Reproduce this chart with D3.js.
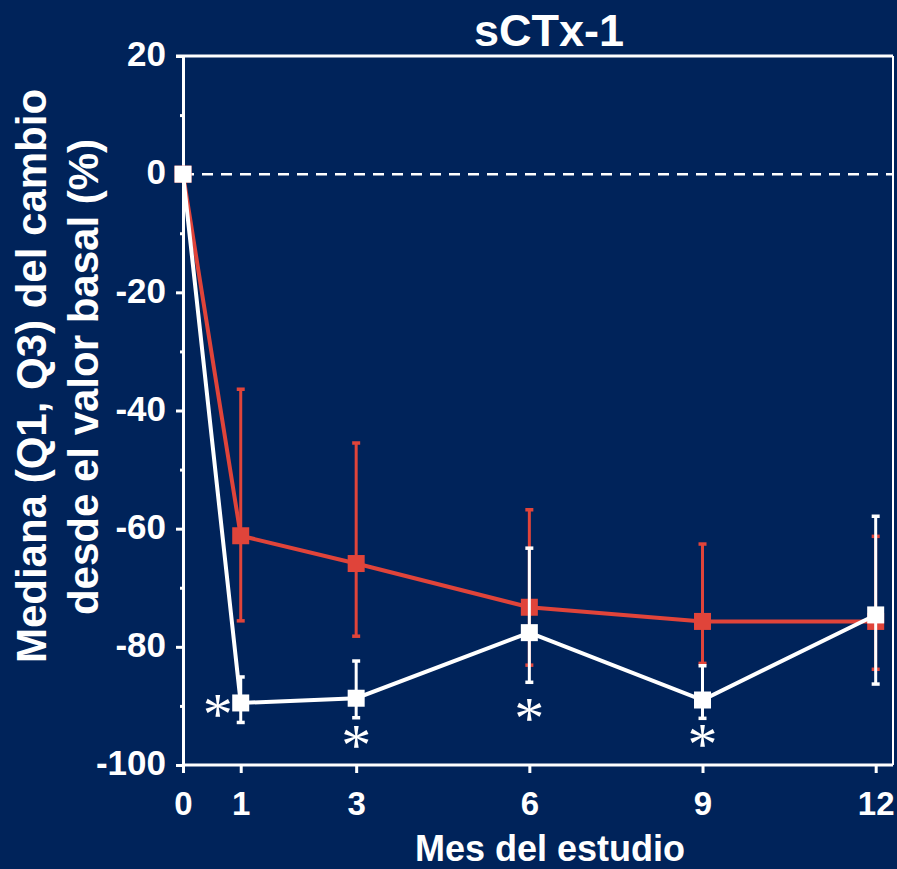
<!DOCTYPE html>
<html>
<head>
<meta charset="utf-8">
<script src="https://cdn.jsdelivr.net/npm/d3@7"></script>
<style>
  html, body { margin: 0; padding: 0; background: #00235a; }
  svg { display: block; }
  text { font-family: "Liberation Sans", Arial, sans-serif; font-weight: bold; fill: #fff; }
</style>
</head>
<body>
<svg id="chart" width="897" height="869"></svg>
<script>
// data
const months = [0, 1, 3, 6, 9, 12]
const whiteMedian = [0, -89.5, -88.7, -77.6, -89.0, -74.6]
const whiteQ3 = [null, -85.1, -82.4, -63.3, -83.2, -57.9]
const whiteQ1 = [null, -92.8, -92.0, -86.0, -92.1, -86.3]
const redMedian = [0, -61.2, -65.9, -73.3, -75.7, -75.7]
const redQ3 = [null, -36.4, -45.5, -56.8, -62.6, -61.3]
const redQ1 = [null, -75.6, -78.2, -83.1, -82.8, -83.8]
const yTicks = [20, 0, -20, -40, -60, -80, -100]
const yMinor = [10, -10, -30, -50, -70, -90]
// significance marks (month, value where the * sits)
const starMonths = [1, 3, 6, 9]
const starValues = [-89.8, -95.1, -90.6, -94.9]

const svg = d3.select('#chart')
const white = '#ffffff'
const red = '#e0443a'
const pLeft = 183, pRight = 893, pTop = 56, pBottom = 765

const x = d3.scaleLinear().domain([0, 12.3]).range([pLeft, pRight])
const y = d3.scaleLinear().domain([-100, 20]).range([pBottom, pTop])

// frame
svg.append('line').attr('x1', pLeft - 7).attr('x2', pRight).attr('y1', pTop).attr('y2', pTop)
  .attr('stroke', white).attr('stroke-width', 3)
svg.append('line').attr('x1', pRight).attr('x2', pRight).attr('y1', pTop).attr('y2', pBottom)
  .attr('stroke', white).attr('stroke-width', 2)

// zero line
svg.append('line').attr('x1', pLeft).attr('x2', pRight).attr('y1', y(0)).attr('y2', y(0))
  .attr('stroke', white).attr('stroke-width', 2.5).attr('stroke-dasharray', '11,8')

// axes
const yAxis = svg.append('g').attr('transform', `translate(${pLeft},0)`)
  .call(d3.axisLeft(y).tickValues(yTicks).tickSize(7).tickPadding(10).tickFormat(d => String(d)))
svg.append('g').attr('transform', `translate(${pLeft},0)`)
  .call(d3.axisLeft(y).tickValues(yMinor).tickSize(3).tickFormat(''))
  .select('.domain').remove()

const xAxis = svg.append('g').attr('transform', `translate(0,${pBottom})`)
  .call(d3.axisBottom(x).tickValues(months).tickSize(8).tickPadding(19).tickSizeOuter(0))
xAxis.select('.domain').attr('d', `M${pLeft},0H${pRight}`)

svg.selectAll('.domain, .tick line').attr('stroke', white).attr('stroke-width', 3)
svg.selectAll('.tick text').attr('fill', white).style('font-size', '35px')
  .style('font-family', '"Liberation Sans", Arial, sans-serif').style('font-weight', 'bold')
yAxis.selectAll('.tick text').attr('dy', '0.28em')
xAxis.selectAll('.tick text').style('font-size', '33px')

// series
const drawSeries = (median, q1, q3, color) => {
  const pts = months.map((m, i) => ({ m, v: median[i], lo: q1[i], hi: q3[i] }))
  const g = svg.append('g')
  g.append('path').datum(pts)
    .attr('d', d3.line().x(d => x(d.m)).y(d => y(d.v)))
    .attr('fill', 'none').attr('stroke', color).attr('stroke-width', 4)
  const eb = g.selectAll('g.eb').data(pts.filter(d => d.lo !== null)).enter().append('g')
  eb.append('line').attr('x1', d => x(d.m)).attr('x2', d => x(d.m))
    .attr('y1', d => y(d.hi)).attr('y2', d => y(d.lo))
    .attr('stroke', color).attr('stroke-width', 3)
  eb.append('line').attr('x1', d => x(d.m) - 4).attr('x2', d => x(d.m) + 4)
    .attr('y1', d => y(d.hi)).attr('y2', d => y(d.hi))
    .attr('stroke', color).attr('stroke-width', 3.5)
  eb.append('line').attr('x1', d => x(d.m) - 4).attr('x2', d => x(d.m) + 4)
    .attr('y1', d => y(d.lo)).attr('y2', d => y(d.lo))
    .attr('stroke', color).attr('stroke-width', 3.5)
  g.selectAll('rect').data(pts).enter().append('rect')
    .attr('x', d => x(d.m) - 8.5).attr('y', d => y(d.v) - 8.5)
    .attr('width', 17).attr('height', 17).attr('fill', color)
}
drawSeries(redMedian, redQ1, redQ3, red)
drawSeries(whiteMedian, whiteQ1, whiteQ3, white)

// asterisks
svg.selectAll('text.star').data(starMonths).enter().append('text')
  .attr('class', 'star')
  .attr('x', (d, i) => x(d) - (i === 0 ? 23 : 0))
  .attr('y', (d, i) => y(starValues[i]) + 29)
  .attr('text-anchor', 'middle')
  .style('font-family', '"Liberation Serif", "Times New Roman", serif')
  .style('font-weight', 'normal')
  .style('font-size', '60px')
  .text('*')

// titles
svg.append('text').attr('x', 549).attr('y', 46).attr('text-anchor', 'middle')
  .style('font-size', '45px').text('sCTx-1')
svg.append('text').attr('x', 550).attr('y', 861).attr('text-anchor', 'middle')
  .style('font-size', '36px').text('Mes del estudio')
svg.append('text').attr('transform', 'translate(46,376) rotate(-90)').attr('text-anchor', 'middle')
  .style('font-size', '42px').text('Mediana (Q1, Q3) del cambio')
svg.append('text').attr('transform', 'translate(98,377) rotate(-90)').attr('text-anchor', 'middle')
  .style('font-size', '42px').text('desde el valor basal (%)')
</script>
</body>
</html>
